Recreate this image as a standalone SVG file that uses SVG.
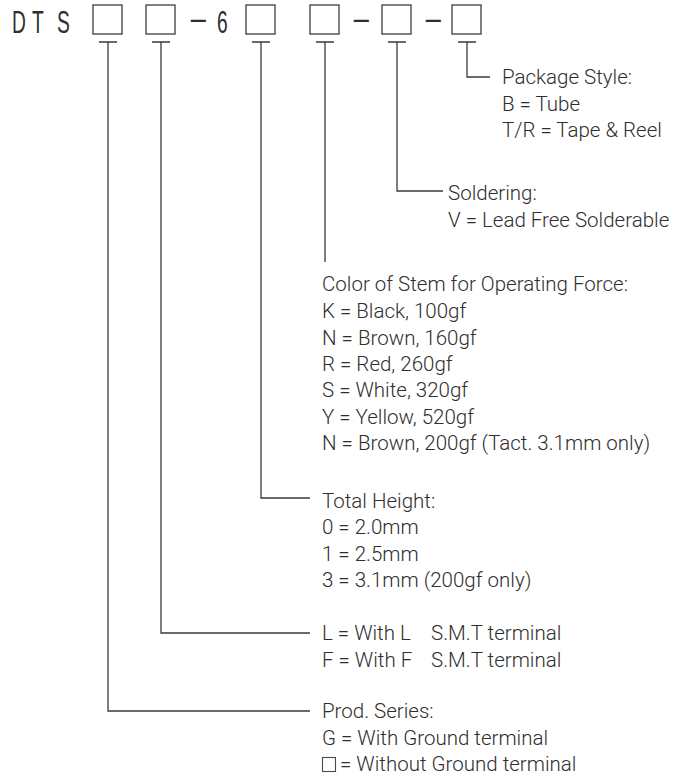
<svg xmlns="http://www.w3.org/2000/svg" width="685" height="778" viewBox="0 0 685 778">
<style>
.bg{fill:#fff}
.box{fill:none;stroke:#4a4a4a;stroke-width:1.4}
.ln{fill:none;stroke:#3a3a3a;stroke-width:1.3}
.t{font-family:Roboto,"Liberation Sans",sans-serif;font-weight:300;font-size:20.5px;fill:#2e2e2e}
.h{font-family:"Liberation Sans",Arial,sans-serif;font-size:31px;fill:#2e2e2e}
</style>
<rect class="bg" x="0" y="0" width="685" height="778"/>
<g id="code">
<text class="h" transform="translate(0,33) scale(0.62,1)"><tspan x="19.4">D</tspan><tspan x="51.6">T</tspan><tspan x="92">S</tspan><tspan x="350">6</tspan></text>
<text class="h" x="189" y="31">−</text>
<text class="h" x="352" y="31">−</text>
<text class="h" x="424" y="31">−</text>
<rect class="box" x="93" y="5" width="29" height="29"/>
<rect class="box" x="146" y="5" width="29" height="29"/>
<rect class="box" x="246" y="5" width="29" height="29"/>
<rect class="box" x="310" y="5" width="29" height="29"/>
<rect class="box" x="382" y="5" width="29" height="29"/>
<rect class="box" x="452" y="5" width="29" height="29"/>
</g>
<g id="connectors">
<path class="ln" d="M99 42H117M108 42V711H310"/>
<path class="ln" d="M152 42H170M161 42V633H310"/>
<path class="ln" d="M252 42H270M261 42V498H310"/>
<path class="ln" d="M316 42H334M325 42V262"/>
<path class="ln" d="M388 42H406M397 42V191H443"/>
<path class="ln" d="M458 42H476M467 42V77H490"/>
</g>
<g id="package">
<text class="t" x="502" y="84">Package Style:</text>
<text class="t" x="502" y="110.5">B = Tube</text>
<text class="t" x="502" y="137">T/R = Tape &amp; Reel</text>
</g>
<g id="soldering">
<text class="t" x="448" y="200">Soldering:</text>
<text class="t" x="448" y="227">V = Lead Free Solderable</text>
</g>
<g id="color">
<text class="t" x="322" y="291">Color of Stem for Operating Force:</text>
<text class="t" x="322" y="318">K = Black, 100gf</text>
<text class="t" x="322" y="344.5">N = Brown, 160gf</text>
<text class="t" x="322" y="371">R = Red, 260gf</text>
<text class="t" x="322" y="397">S = White, 320gf</text>
<text class="t" x="322" y="423.5">Y = Yellow, 520gf</text>
<text class="t" x="322" y="450">N = Brown, 200gf (Tact. 3.1mm only)</text>
</g>
<g id="height">
<text class="t" x="322" y="508">Total Height:</text>
<text class="t" x="322" y="534">0 = 2.0mm</text>
<text class="t" x="322" y="560.5">1 = 2.5mm</text>
<text class="t" x="322" y="587">3 = 3.1mm (200gf only)</text>
</g>
<g id="terminal">
<text class="t" x="322" y="640">L = With L<tspan x="431">S.M.T terminal</tspan></text>
<text class="t" x="322" y="667">F = With F<tspan x="431">S.M.T terminal</tspan></text>
</g>
<g id="series">
<text class="t" x="322" y="718">Prod. Series:</text>
<text class="t" x="322" y="744.5">G = With Ground terminal</text>
<rect class="box" x="322.5" y="757.5" width="13" height="14" style="stroke-width:1.1"/>
<text class="t" x="340" y="771">= Without Ground terminal</text>
</g>
</svg>
